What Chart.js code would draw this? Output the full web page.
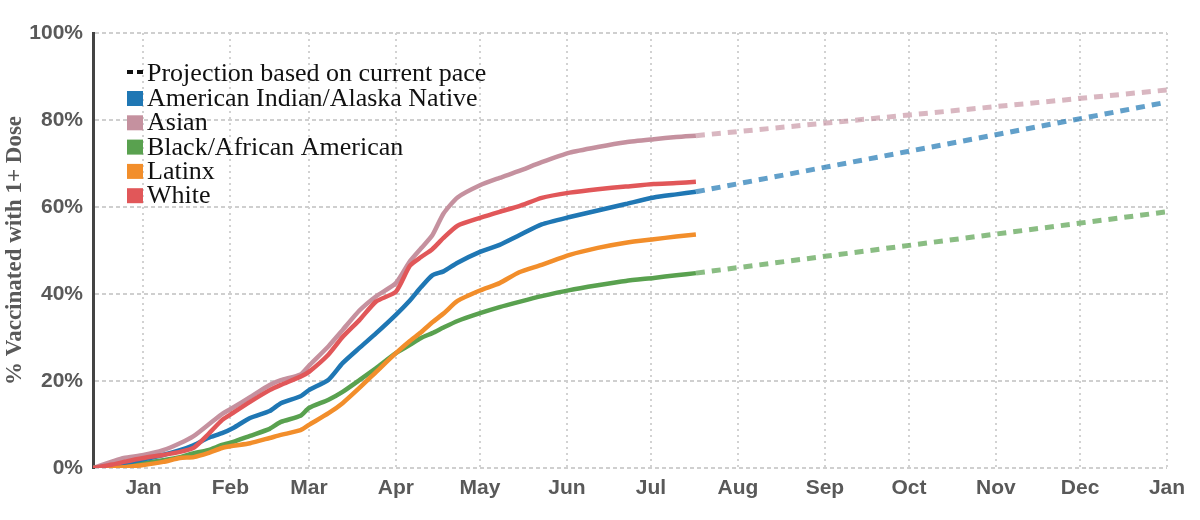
<!DOCTYPE html>
<html>
<head>
<meta charset="utf-8">
<title>% Vaccinated with 1+ Dose</title>
<script src="https://cdn.jsdelivr.net/npm/chart.js@4.4.1/dist/chart.umd.min.js"></script>
<style>
  html, body { margin: 0; padding: 0; background: #fff; }
  #wrap { width: 1200px; height: 520px; }
</style>
</head>
<body>
<div id="wrap"><canvas id="chart" width="1200" height="520"></canvas></div>
<script>
// days since Dec 14, 2020
const days = [0, 7, 11, 18, 25, 31, 36, 41, 46, 50, 56, 63, 67, 74, 77, 84, 89, 95, 101, 108,
              113, 117, 121, 125, 130, 138, 145, 152, 160, 170, 180, 190, 200, 208, 215];

const aian   = [0, 0.5, 1.1, 2.0, 3.0, 4.1, 5.3, 6.9, 8.0, 9.2, 11.5, 13.1, 14.9, 16.5, 17.9, 20.3, 24.1, 27.6, 31.0, 35.2,
                38.5, 41.6, 44.3, 45.2, 47.2, 49.7, 51.3, 53.5, 56.0, 57.7, 59.2, 60.7, 62.2, 62.9, 63.5];
const asian  = [0, 1.5, 2.3, 3.0, 4.1, 5.7, 7.4, 9.9, 12.4, 13.9, 16.3, 19.1, 20.2, 21.5, 23.5, 28.0, 31.7, 36.2, 39.5, 42.5,
                47.5, 50.5, 53.5, 58.5, 62.2, 65.0, 66.7, 68.3, 70.3, 72.5, 73.8, 74.9, 75.6, 76.1, 76.4];
const black  = [0, 0.2, 0.5, 1.1, 1.8, 2.5, 3.4, 4.1, 5.3, 6.0, 7.4, 9.0, 10.6, 12.0, 13.8, 15.7, 17.5, 20.2, 23.0, 26.4,
                28.3, 29.9, 31.0, 32.3, 33.8, 35.6, 37.0, 38.2, 39.5, 40.9, 42.0, 43.0, 43.7, 44.3, 44.8];
const latinx = [0, 0.1, 0.2, 0.7, 1.4, 2.3, 2.5, 3.4, 4.6, 5.1, 5.7, 6.9, 7.6, 8.7, 9.9, 12.6, 14.9, 18.4, 22.1, 26.4,
                29.2, 31.2, 33.5, 35.5, 38.4, 40.8, 42.5, 45.0, 46.7, 49.0, 50.6, 51.8, 52.6, 53.2, 53.7];
const white  = [0, 0.8, 1.4, 2.3, 3.0, 3.7, 4.7, 7.7, 11.0, 12.7, 15.2, 17.9, 19.1, 21.0, 22.1, 26.1, 30.1, 34.0, 38.3, 40.5,
                46.5, 48.5, 50.3, 52.9, 55.7, 57.5, 58.9, 60.2, 62.1, 63.3, 64.1, 64.7, 65.3, 65.5, 65.8];

// projection: from last data day to Jan 1, 2022
const projDays  = [215, 383];
const projAian  = [63.5, 84.1];
const projAsian = [76.4, 86.9];
const projBlack = [44.8, 58.9];

const monthTickDays = [18, 49, 77, 108, 138, 169, 199, 230, 261, 291, 322, 352, 383];
const monthLabels = ['Jan', 'Feb', 'Mar', 'Apr', 'May', 'Jun', 'Jul', 'Aug', 'Sep', 'Oct', 'Nov', 'Dec', 'Jan'];

const legendLabels = ['American Indian/Alaska Native', 'Asian', 'Black/African American', 'Latinx', 'White'];
const legendColors = ['#1f77b4', '#c5919f', '#59a14f', '#f28e2b', '#e15759'];

function pts(xs, ys) {
    return xs.map((x, i) => ({ x: x, y: ys[i] }));
}

function solid(label, ys, color) {
    return {
        label: label,
        data: pts(days, ys),
        borderColor: color,
        borderWidth: 4.5,
        pointRadius: 0,
        tension: 0.2,
        fill: false
    };
}

function proj(label, ys, color) {
    return {
        label: label,
        data: pts(projDays, ys),
        borderColor: color,
        borderWidth: 5,
        borderDash: [9, 7],
        pointRadius: 0,
        fill: false
    };
}

// legend drawn inside the plot, top-left
const legendPlugin = {
    id: 'insideLegend',
    afterDraw(chart) {
        const ctx = chart.ctx;
        const x0 = chart.chartArea.left + 34;
        ctx.save();
        ctx.font = '26px "Liberation Serif", "Times New Roman", serif';
        ctx.textBaseline = 'alphabetic';
        ctx.fillStyle = '#111';
        // projection entry
        ctx.fillRect(x0, 70, 6, 4);
        ctx.fillRect(x0 + 10, 70, 6, 4);
        ctx.fillText('Projection based on current pace', x0 + 20, 81);
        legendLabels.forEach((txt, i) => {
            const top = 91 + i * 24.3;
            ctx.fillStyle = legendColors[i];
            ctx.fillRect(x0, top, 16, 15);
            ctx.fillStyle = '#111';
            ctx.fillText(txt, x0 + 20, top + 15);
        });
        ctx.restore();
    }
};

new Chart(document.getElementById('chart').getContext('2d'), {
    type: 'line',
    data: {
        datasets: [
            solid('White', white, '#e15759'),
            solid('Latinx', latinx, '#f28e2b'),
            solid('American Indian/Alaska Native', aian, '#1f77b4'),
            solid('Black/African American', black, '#59a14f'),
            solid('Asian', asian, '#c5919f'),
            proj('Asian projection', projAsian, 'rgba(197, 145, 159, 0.65)'),
            proj('AIAN projection', projAian, 'rgba(31, 119, 180, 0.7)'),
            proj('Black projection', projBlack, 'rgba(89, 161, 79, 0.7)')
        ]
    },
    options: {
        responsive: false,
        animation: false,
        layout: { padding: { top: 33, right: 33, left: 0, bottom: 0 } },
        plugins: {
            legend: { display: false },
            tooltip: { enabled: false }
        },
        scales: {
            x: {
                type: 'linear',
                min: 0,
                max: 383,
                afterBuildTicks: (scale) => {
                    scale.ticks = monthTickDays.map(v => ({ value: v }));
                },
                afterFit: (scale) => { scale.height = 52; },
                ticks: {
                    autoSkip: false,
                    maxRotation: 0,
                    padding: 8,
                    color: '#595959',
                    font: { family: '"Liberation Sans", Arial, sans-serif', size: 21, weight: 'bold' },
                    callback: (value) => monthLabels[monthTickDays.indexOf(value)]
                },
                grid: { color: '#d2d2d2', lineWidth: 2, drawTicks: false },
                border: { display: false, dash: [2, 4] }
            },
            y: {
                min: 0,
                max: 100,
                afterFit: (scale) => { scale.width = 93; },
                ticks: {
                    stepSize: 20,
                    padding: 10,
                    color: '#595959',
                    font: { family: '"Liberation Sans", Arial, sans-serif', size: 21, weight: 'bold' },
                    callback: (value) => value + '%'
                },
                title: {
                    display: true,
                    text: '% Vaccinated with 1+ Dose',
                    color: '#595959',
                    padding: { top: 1, bottom: 0 },
                    font: { family: '"Liberation Serif", "Times New Roman", serif', size: 23, weight: 'bold' }
                },
                grid: { color: '#cfcfcf', lineWidth: 2, drawTicks: false },
                border: { display: true, color: '#444', width: 3, dash: [4, 3] }
            }
        }
    },
    plugins: [legendPlugin]
});
</script>
</body>
</html>
